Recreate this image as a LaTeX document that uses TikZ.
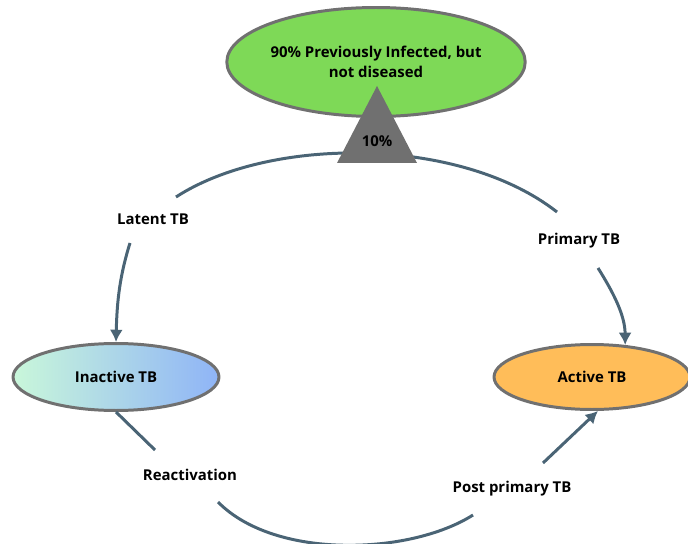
\documentclass[tikz,border=0pt]{standalone}
\usepackage{fontspec}
\setmainfont{Open Sans}
\usetikzlibrary{shapes.geometric, arrows.meta}

\definecolor{flowline}{HTML}{4A6475}
\definecolor{rimgray}{HTML}{707070}
\definecolor{infgreen}{HTML}{7ED957}
\definecolor{actorange}{HTML}{FFBD59}
\definecolor{mint}{HTML}{C9F7DA}
\definecolor{skyblue}{HTML}{8FB4F7}

\begin{document}
\begin{tikzpicture}[
    x=0.02cm, y=-0.02cm,
    every node/.style={font=\fontsize{8.5}{11}\selectfont\bfseries},
    stage/.style={ellipse, draw=rimgray, line width=1.7pt, inner sep=0pt, align=center},
    tag/.style={align=center},
    flow/.style={draw=flowline, line width=1.7pt},
    arrow/.style={flow, -{Latex[length=7pt, width=7.5pt]}}
]
    \useasboundingbox (0,0) rectangle (688,543);

    \coordinate (topL) at (176,197);
    \coordinate (topR) at (557,212);
    \draw [flow] (topL) .. controls (270,136) and (460,136) .. (topR);

    % stages
    \node (infected) [stage, fill=infgreen, minimum width=5.96cm, minimum height=2.18cm] at (376,62) {90\% Previously Infected, but\\not diseased};
    \node (inactive) [stage, left color=mint, right color=skyblue, minimum width=4.12cm, minimum height=1.34cm] at (116,377) {Inactive TB};
    \node (active) [stage, fill=actorange, minimum width=3.92cm, minimum height=1.3cm] at (592,377) {Active TB};

    \fill [rimgray] (377,86) -- (417,163) -- (337,163) -- cycle;
    \node (share) at (377,141) {10\%};

    % labels
    \node (latent) [tag] at (153,219) {Latent TB};
    \node (primary) [tag] at (579,241) {Primary TB};
    \node (react) [tag] at (190,475) {Reactivation};
    \node (postprim) [tag] at (512,489) {Post primary TB};

    \coordinate (latTail) at (130,243);
    \coordinate (primTail) at (598,268);
    \coordinate (reactEnd) at (155,450);
    \coordinate (botL) at (218,502);
    \coordinate (botR) at (473,515);
    \coordinate (postTail) at (543,463);

    \draw [arrow] (latTail) .. controls (120,275) and (117,300) .. (inactive.north);
    \draw [arrow] (primTail) .. controls (613,292) and (625,315) .. (active.44);
    \draw [flow] (inactive.south) -- (reactEnd);
    \draw [flow] (botL) .. controls (275,560) and (410,555) .. (botR);
    \draw [arrow] (postTail) -- (active.-80);
\end{tikzpicture}
\end{document}
